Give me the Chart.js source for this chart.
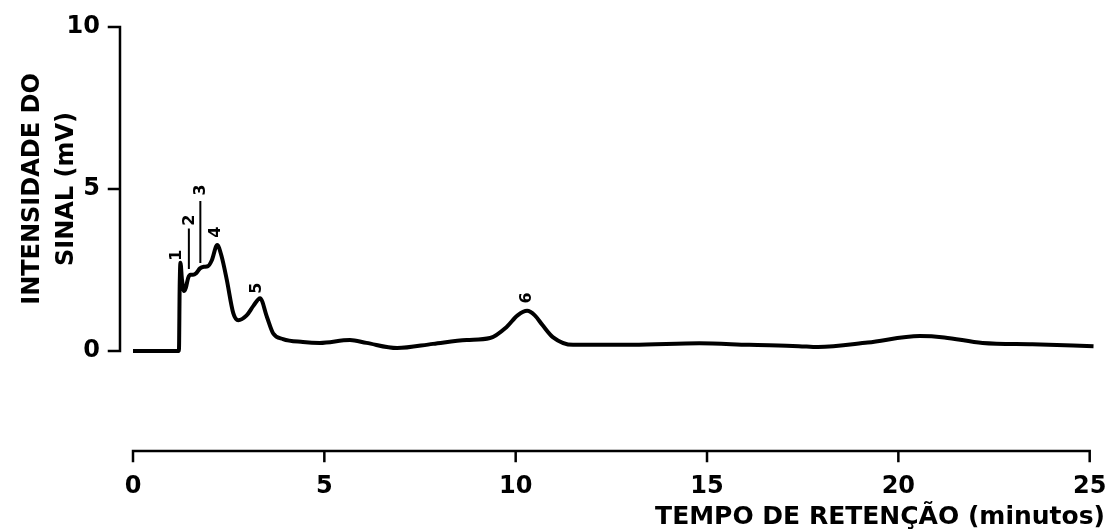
<!DOCTYPE html>
<html>
<head>
<meta charset="utf-8">
<script src="https://cdn.jsdelivr.net/npm/chart.js@4"></script>
<style>
  html, body { margin: 0; padding: 0; background: #fff; }
  #wrap { width: 1109px; height: 532px; }
</style>
</head>
<body>
<div id="wrap"><canvas id="chrom"></canvas></div>
<script>
const retTime = [0, 1.15, 1.2, 1.22, 1.24, 1.28, 1.33, 1.38, 1.44, 1.5, 1.57, 1.65, 1.75, 1.85, 1.96, 2.06, 2.2, 2.32, 2.45, 2.62, 2.75, 2.97, 3.15, 3.32, 3.5, 3.66, 3.92, 4.44, 4.88, 5.67, 6.1, 6.9, 7.84, 8.72, 9.33, 9.77, 10.05, 10.3, 10.5, 10.7, 10.97, 11.5, 13.06, 14.8, 16.1, 17.4, 17.9, 19.2, 20.56, 21.2, 22.2, 23.5, 25.1];
const signal  = [0, 0, 0, 2.0, 2.72, 2.2, 1.85, 1.95, 2.25, 2.35, 2.35, 2.4, 2.55, 2.6, 2.62, 2.8, 3.27, 2.9, 2.2, 1.17, 0.95, 1.1, 1.4, 1.63, 1.05, 0.55, 0.37, 0.28, 0.25, 0.34, 0.25, 0.09, 0.22, 0.34, 0.4, 0.75, 1.1, 1.24, 1.1, 0.8, 0.43, 0.19, 0.19, 0.24, 0.19, 0.15, 0.12, 0.26, 0.46, 0.42, 0.25, 0.21, 0.15];

const xTicks = [0, 5, 10, 15, 20, 25];
const yTicks = [0, 5, 10];

// identificação dos picos: [rótulo, x, y]
const peakLabels = [['1', 1.15, 2.96], ['2', 1.49, 4.04], ['3', 1.78, 4.97], ['4', 2.17, 3.67], ['5', 3.24, 1.94], ['6', 10.3, 1.64]];
// traços verticais dos picos 2 e 3: [x, y0, y1]
const peakLines = [[1.46, 2.56, 3.75], [1.76, 2.75, 4.6]];

const FONT = 'DejaVu Sans';

// eixos desenhados à mão, como no original (eixo x deslocado para baixo)
const axesPlugin = {
  id: 'axesPlugin',
  afterDatasetsDraw(chart) {
    const { ctx, scales: { x, y } } = chart;
    ctx.save();
    ctx.strokeStyle = '#000';
    ctx.lineCap = 'square';

    // eixo y
    const ax = x.getPixelForValue(-0.34);
    ctx.lineWidth = 2.5;
    ctx.beginPath();
    ctx.moveTo(ax, y.getPixelForValue(10));
    ctx.lineTo(ax, y.getPixelForValue(0));
    yTicks.forEach(v => {
      const py = y.getPixelForValue(v);
      ctx.moveTo(ax, py);
      ctx.lineTo(ax - 11, py);
    });
    ctx.stroke();

    // eixo x
    const ay = y.getPixelForValue(-3.09);
    ctx.lineWidth = 2.5;
    ctx.beginPath();
    ctx.moveTo(x.getPixelForValue(0), ay);
    ctx.lineTo(x.getPixelForValue(25), ay);
    xTicks.forEach(v => {
      const px = x.getPixelForValue(v);
      ctx.moveTo(px, ay);
      ctx.lineTo(px, ay + 10);
    });
    ctx.stroke();

    // traços dos picos
    ctx.lineWidth = 2;
    ctx.beginPath();
    peakLines.forEach(([lx, y0, y1]) => {
      const px = x.getPixelForValue(lx);
      ctx.moveTo(px, y.getPixelForValue(y0));
      ctx.lineTo(px, y.getPixelForValue(y1));
    });
    ctx.stroke();

    // números dos picos (girados)
    ctx.fillStyle = '#000';
    ctx.font = 'bold 16px "' + FONT + '"';
    ctx.textAlign = 'center';
    ctx.textBaseline = 'middle';
    peakLabels.forEach(([t, lx, ly]) => {
      ctx.save();
      ctx.translate(x.getPixelForValue(lx), y.getPixelForValue(ly));
      ctx.rotate(-Math.PI / 2);
      ctx.fillText(t, 0, 0);
      ctx.restore();
    });
    ctx.restore();
  }
};

new Chart(document.getElementById('chrom'), {
  type: 'line',
  data: {
    datasets: [{
      data: retTime.map((t, i) => ({ x: t, y: signal[i] })),
      borderColor: '#000',
      borderWidth: 4,
      pointRadius: 0,
      cubicInterpolationMode: 'monotone',
      clip: false,
      fill: false
    }]
  },
  options: {
    responsive: true,
    maintainAspectRatio: false,
    animation: false,
    layout: { padding: { top: 27, right: 4, bottom: 0, left: 0 } },
    plugins: { legend: { display: false }, tooltip: { enabled: false } },
    scales: {
      x: {
        type: 'linear',
        min: 0,
        max: 25.4,
        afterBuildTicks: s => { s.ticks = xTicks.map(v => ({ value: v })); },
        afterFit: s => { s.height = 181; s.paddingLeft = 0; s.paddingRight = 0; },
        grid: { display: false, drawTicks: false },
        border: { display: false },
        ticks: {
          color: '#000',
          padding: 121,
          maxRotation: 0,
          autoSkip: false,
          font: { family: FONT, size: 24, weight: 'bold' }
        },
        title: {
          display: true,
          text: 'TEMPO DE RETENÇÃO (minutos)',
          align: 'end',
          color: '#000',
          padding: { top: 0, bottom: 1 },
          font: { family: FONT, size: 25, weight: 'bold', lineHeight: 1.1 }
        }
      },
      y: {
        min: 0,
        max: 10,
        afterBuildTicks: s => { s.ticks = yTicks.map(v => ({ value: v })); },
        afterFit: s => { s.width = 133; s.paddingTop = 0; s.paddingBottom = 0; },
        grid: { display: false, drawTicks: false },
        border: { display: false },
        ticks: {
          color: '#000',
          padding: 33,
          font: { family: FONT, size: 24, weight: 'bold' }
        },
        title: {
          display: true,
          text: ['INTENSIDADE DO', 'SINAL (mV)'],
          color: '#000',
          padding: { top: 16, bottom: 0 },
          font: { family: FONT, size: 24, weight: 'bold', lineHeight: 1.42 }
        }
      }
    }
  },
  plugins: [axesPlugin]
});
</script>
</body>
</html>
